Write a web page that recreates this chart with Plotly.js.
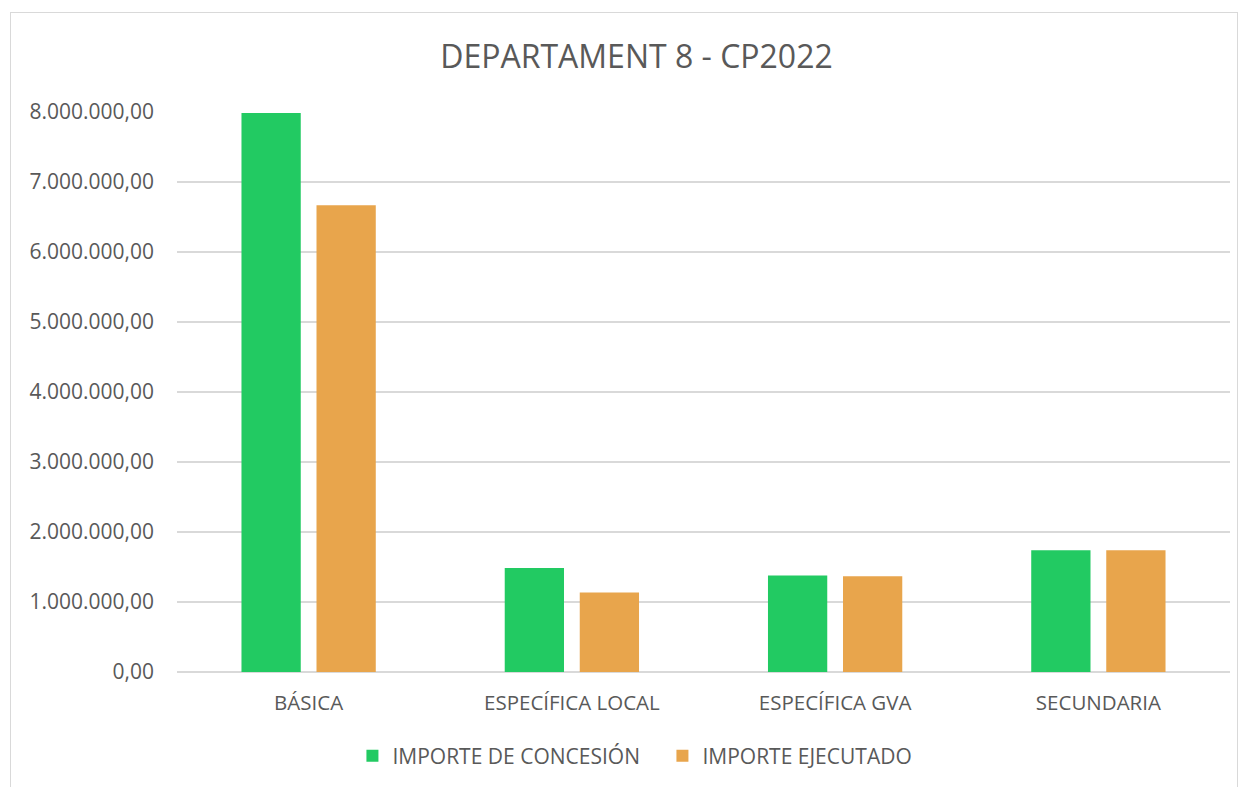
<!DOCTYPE html>
<html>
<head>
<meta charset="utf-8">
<script src="https://cdn.plot.ly/plotly-3.0.1.min.js"></script>
<style>
html,body{margin:0;padding:0;background:#fff;}
#chart{position:absolute;left:0;top:0;width:1248px;height:787px;}
#frame{position:absolute;left:10px;top:12px;width:1226px;height:800px;border:1px solid #d9d9d9;pointer-events:none;}
</style>
</head>
<body>
<div id="chart"></div>
<div id="frame"></div>
<script>
const categories = ["BÁSICA", "ESPECÍFICA LOCAL", "ESPECÍFICA GVA", "SECUNDARIA"];
const concesion = [7986000, 1486000, 1377000, 1739000];
const ejecutado = [6667000, 1134000, 1367000, 1739000];
const seriesNames = ["IMPORTE DE CONCESIÓN", "IMPORTE EJECUTADO"];

const font = "Open Sans, Liberation Sans, sans-serif";
const traces = [
  {type: "bar", x: categories, y: concesion, name: seriesNames[0], marker: {color: "#22CA62"}},
  {type: "bar", x: categories, y: ejecutado, name: seriesNames[1], marker: {color: "#E8A54C"}}
];
const layout = {
  width: 1248, height: 787,
  margin: {l: 177, r: 18, t: 112, b: 115, autoexpand: false},
  paper_bgcolor: "rgba(0,0,0,0)", plot_bgcolor: "#fff",
  separators: ",.",
  barmode: "group", bargap: 0.43, bargroupgap: 0.21,
  title: {text: "DEPARTAMENT 8 - CP2022", x: 0.51, xanchor: "center", y: 0.928, yanchor: "middle",
          font: {family: font, size: 32, color: "#595959"}},
  font: {family: font, color: "#595959", size: 20},
  xaxis: {tickfont: {family: font, size: 20.5, color: "#595959"}, showline: false, ticks: "", ticklabelstandoff: 16},
  yaxis: {range: [0, 8000000], dtick: 1000000, tickformat: ",.2f", showgrid: true, gridcolor: "#d9d9d9", gridwidth: 1.3,
          zeroline: true, zerolinecolor: "#d9d9d9", zerolinewidth: 1.3, ticks: "", ticklabelstandoff: 22,
          tickfont: {family: font, size: 21, color: "#595959"}},
  showlegend: true,
  legend: {orientation: "h", x: 0.461, xanchor: "center", y: -0.15, yanchor: "middle", font: {family: font, size: 21, color: "#595959"},
           itemwidth: 30, traceorder: "normal", entrywidth: 265}
};
Plotly.newPlot("chart", traces, layout, {displayModeBar: false, staticPlot: true});
</script>
</body>
</html>
